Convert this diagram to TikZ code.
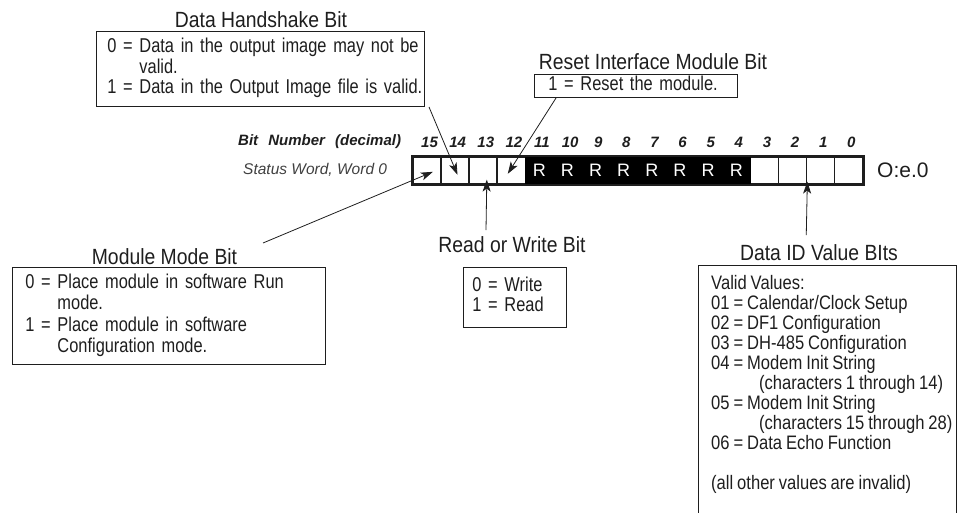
\documentclass[tikz,border=0pt]{standalone}
\usepackage{fontspec}
\setmainfont{Liberation Sans}
\newfontfamily\cond[FakeStretch=0.88]{Liberation Sans}
\newfontfamily\condb[FakeStretch=0.82,WordSpace=0.85]{Liberation Sans}
\newfontfamily\condd[FakeStretch=0.85,WordSpace=0.85]{Liberation Sans}
\usetikzlibrary{arrows.meta,calc}
\definecolor{ink}{RGB}{30,30,30}
\begin{document}
\begin{tikzpicture}[x=1pt,y=-1pt,
  ttl/.style={font=\cond\fontsize{22}{24}\selectfont, inner sep=0pt, text=ink},
  tbox/.style={draw=ink, line width=0.9pt, align=left, inner ysep=0pt, anchor=north west, text=ink},
  arr/.style={draw=ink, line width=0.8pt, -{Stealth[length=12pt,width=8pt,inset=3pt]}},
  cell/.style={draw=ink, line width=1.6pt, minimum width=28.125pt, minimum height=27pt, inner sep=0pt, anchor=north west},
  bitno/.style={font=\bfseries\itshape\fontsize{15}{16}\selectfont, inner sep=0pt, text=ink},
]
\useasboundingbox (0,0) rectangle (957,512);

% ---------- register ----------
\foreach \i in {0,1,2,3,12,13,14,15} {
  \pgfmathsetmacro\xx{412+(15-\i)*28.125}
  \node[cell, fill=white] (b\i) at (\xx,156) {};
}
\foreach \i in {4,...,11} {
  \pgfmathsetmacro\xx{412+(15-\i)*28.125}
  \node[cell, fill=black, draw=black, text=white, font=\fontsize{18}{18}\selectfont] (b\i) at (\xx,156) {R};
}
\draw[ink, line width=2pt] (b15.north west) rectangle (b0.south east);
\foreach \i in {0,...,15} {
  \pgfmathsetmacro\xx{412+(15-\i)*28.125+17.5}
  \node[bitno] (n\i) at (\xx,142) {\i};
}
\node[bitno, anchor=west] (bitlbl) at (238,142) {Bit\hspace{6pt} Number\hspace{6pt} (decimal)};
\node[font=\itshape\fontsize{15.5}{17}\selectfont, text=ink!85, inner sep=0pt, anchor=west] (swlbl) at (243,170) {Status Word, Word 0};
\node[font=\fontsize{21}{22}\selectfont, text=ink, inner sep=0pt, anchor=west] (oe) at (877,170) {O:e.0};

% ---------- Data Handshake ----------
\node[ttl] (hst) at (261,20) {Data Handshake Bit};
\node[tbox, font=\condb\fontsize{20}{20.8}\selectfont, minimum width=328pt, minimum height=75pt, inner xsep=11pt, text width=306pt] (hs) at (96,31) {%
\begin{tabular}{@{}l@{\ }l@{}}
0 = & Data in the output image may not be\\
    & valid.\\
1 = & Data in the Output Image file is valid.
\end{tabular}};

% ---------- Reset Interface ----------
\node[ttl] (rst) at (653,62) {Reset Interface Module Bit};
\node[tbox, font=\condb\fontsize{20}{20.5}\selectfont, minimum width=203pt, minimum height=23pt, inner xsep=14pt, text width=175pt] (rs) at (534,74) {%
\begin{tabular}{@{}l@{}}1 = Reset the module.\end{tabular}};

% ---------- Module Mode ----------
\node[ttl] (mmt) at (164.5,257) {Module Mode Bit};
\node[tbox, font=\condb\fontsize{20}{21.5}\selectfont, minimum width=313pt, minimum height=97pt, inner xsep=13pt, text width=287pt] (mm) at (12,267) {%
\begin{tabular}{@{}l@{\ }l@{}}
0 = & Place module in software Run\\
    & mode.\\
1 = & Place module in software\\
    & Configuration mode.
\end{tabular}};

% ---------- Read or Write ----------
\node[ttl] (rwt) at (512,245) {Read or Write Bit};
\node[tbox, font=\condb\fontsize{20}{20.5}\selectfont, minimum width=103pt, minimum height=60pt, inner xsep=9pt, text width=85pt] (rw) at (463,267) {%
\begin{tabular}{@{}l@{\ }l@{}}
0 = & Write\\
1 = & Read
\end{tabular}};

% ---------- Data ID ----------
\node[ttl] (didt) at (819,253) {Data ID Value BIts};
\begin{scope}
\clip (0,0) rectangle (957,512);
\node[draw=ink, line width=0.9pt, minimum width=258pt, minimum height=270pt, inner sep=0pt, anchor=north west] (did) at (698,265) {};
\end{scope}
\node[font=\condd\fontsize{19.5}{19.6}\selectfont, text=ink, align=left, inner sep=0pt, anchor=north west] (didtxt) at (711,275) {%
\begin{tabular}{@{}l@{\ }l@{}}
\multicolumn{2}{@{}l@{}}{Valid Values:}\\
01 = & Calendar/Clock Setup\\
02 = & DF1 Configuration\\
03 = & DH-485 Configuration\\
04 = & Modem Init String\\
     & \hspace{12pt}(characters 1 through 14)\\
05 = & Modem Init String\\
     & \hspace{12pt}(characters 15 through 28)\\
06 = & Data Echo Function\\
\multicolumn{2}{@{}l@{}}{}\\
\multicolumn{2}{@{}l@{}}{(all other values are invalid)}
\end{tabular}};

% ---------- connectors ----------
\coordinate (hsA) at (429,107);
\draw[arr] (hsA) -- ($(b14.center)+(2.5,4.5)$);
\coordinate (rsA) at (556,98);
\draw[arr] (rsA) -- ($(b12.center)+(-3.5,3.5)$);
\coordinate (mmA) at (263,243);
\draw[arr] (mmA) -- ($(b15.center)+(6,1.5)$);
\coordinate (rwA) at (486,230);
\draw[arr] (rwA) -- ($(b13.south)+(3.7,-5)$);
\coordinate (didA) at (806.25,235);
\draw[arr] (didA) -- ($(b2.south east)+(0,-3)$);
\end{tikzpicture}
\end{document}
